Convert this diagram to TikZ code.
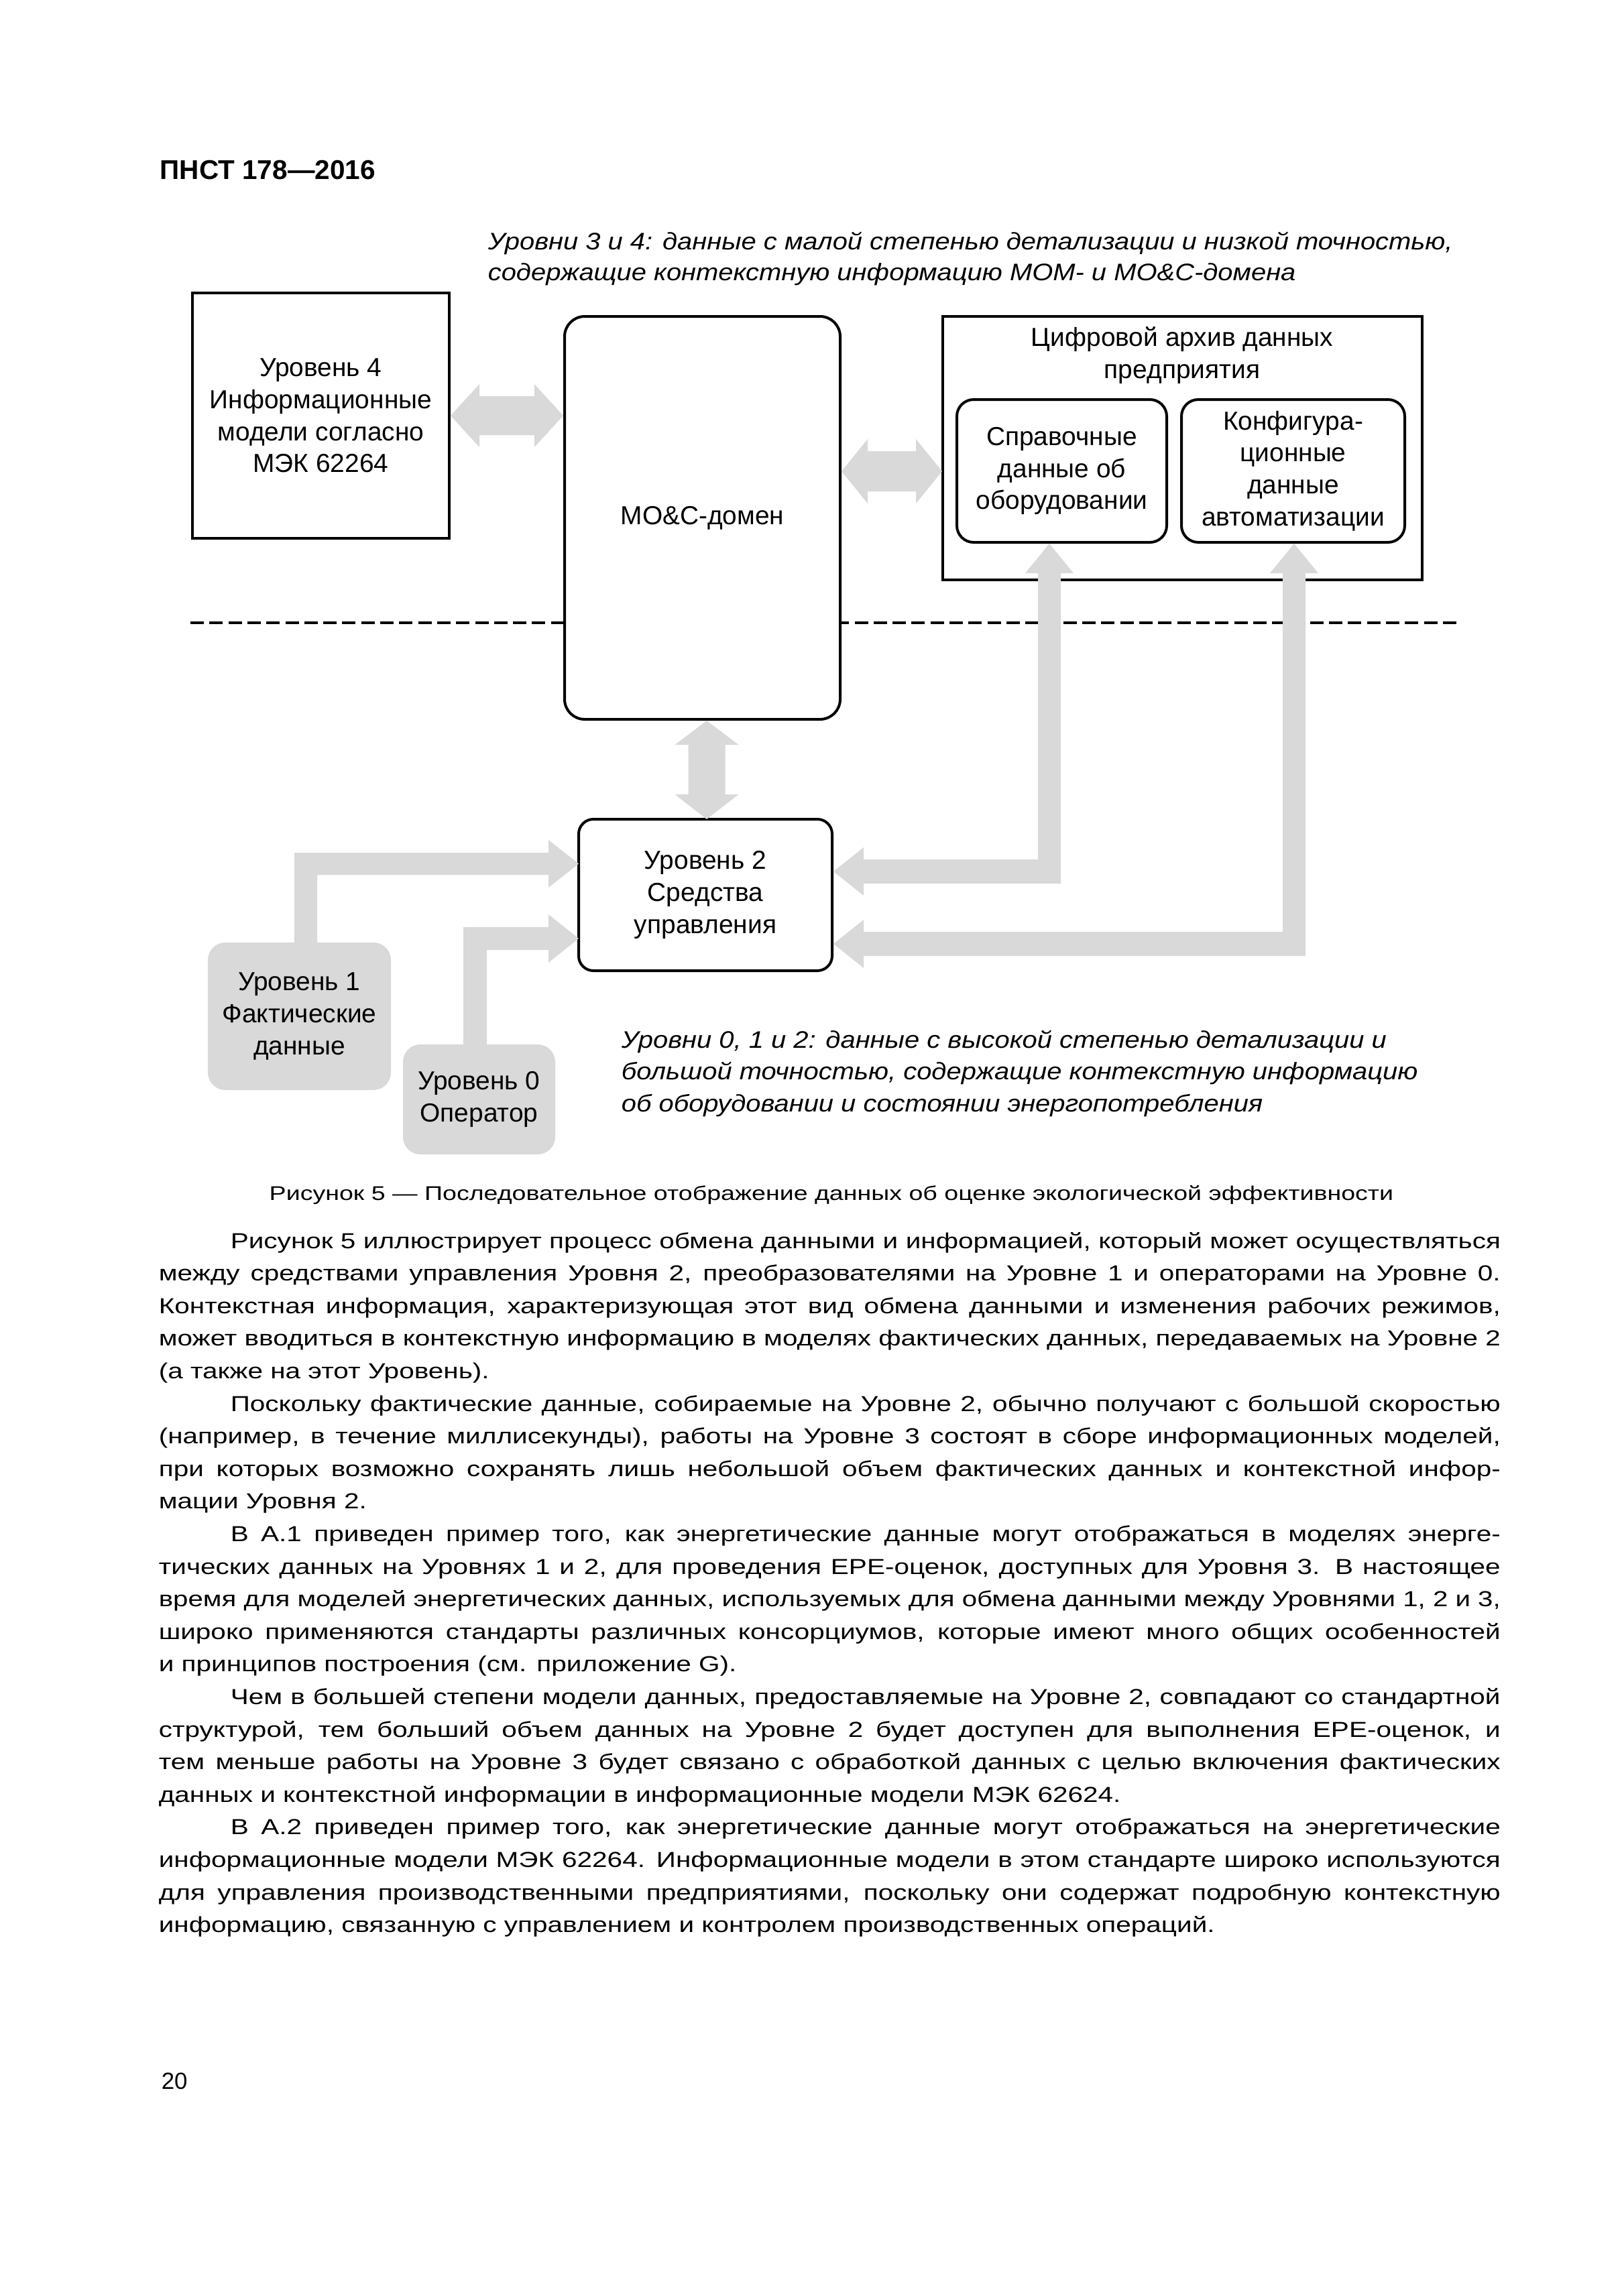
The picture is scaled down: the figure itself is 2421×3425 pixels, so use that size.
\documentclass[tikz,border=0pt]{standalone}
\usepackage{fontspec}
\usepackage{graphicx}
\setmainfont{Liberation Sans}
\newfontfamily\bodyf[FakeStretch=1.25]{Liberation Sans}
\newfontfamily\itf[FakeStretch=1.12]{Liberation Sans}
\newfontfamily\capf[FakeStretch=1.27]{Liberation Sans}
\newlength\pxu \setlength\pxu{0.08674mm}
\newsavebox\lbox
\newcommand\jline[2]{\sbox\lbox{#2}\ifdim\wd\lbox>#1\relax\resizebox{#1}{\height}{#2}\else\makebox[#1][s]{#2}\fi}
\newcommand\bodysize{\bodyf\fontsize{8}{9.6}\selectfont}
\newcommand\boxsize{\fontsize{9.6}{11.8}\selectfont}
\newcommand\itsize{\itf\itshape\fontsize{8.8}{10}\selectfont}
\newcommand\capsize{\capf\fontsize{7.3}{8.5}\selectfont}
\definecolor{agray}{RGB}{217,217,217}
\tikzset{
  bx/.style={draw, line width=4\pxu, fill=white, inner sep=0pt, align=center, font=\boxsize},
  gbx/.style={fill=agray, rounded corners=26\pxu, inner sep=0pt, align=center, font=\boxsize},
  arr/.style={fill=agray, draw=none},
  bl/.style={anchor=base west, inner sep=0pt, font=\bodysize},
  itl/.style={anchor=base west, inner sep=0pt, font=\itsize},
  dashline/.style={line width=4\pxu, dash pattern=on 20\pxu off 8.3\pxu}
}
\begin{document}
\begin{tikzpicture}[x=\pxu, y=-\pxu]
\useasboundingbox (0,0) rectangle (2421,3425);
\fill[white] (0,0) rectangle (2421,3425);

% header
\node[anchor=base west, inner sep=0pt, font=\bfseries\fontsize{10}{12}\selectfont] (hdr) at (238,267) {ПНСТ 178—2016};

% top italic note
\node[itl] (t1) at (727,372) {Уровни 3 и 4: данные с малой степенью детализации и низкой точностью,};
\node[itl] (t2) at (727,418) {содержащие контекстную информацию МОМ- и МО\&С-домена};

% dashed boundary
\coordinate (dl) at (284,929);
\coordinate (dr) at (2172,929);
\draw[dashline] (dl) -- (dr);

% boxes
\node[bx, minimum width=383\pxu, minimum height=366\pxu] (l4) at (478.5,620) {Уровень 4\\Информационные\\модели согласно\\МЭК 62264};
\node[bx, rounded corners=30\pxu, minimum width=411\pxu, minimum height=601\pxu] (moc) at (1047.5,772.5) {МО\&С-домен};
\node[bx, minimum width=715\pxu, minimum height=393\pxu] (arch) at (1763.5,668.5) {};
\node[anchor=base, inner sep=0pt, font=\boxsize] (archt1) at (1763,516) {Цифровой архив данных};
\node[anchor=base, inner sep=0pt, font=\boxsize] (archt2) at (1763,564) {предприятия};
\node[bx, rounded corners=25\pxu, minimum width=313\pxu, minimum height=213\pxu] (sprav) at (1583.5,702.5) {Справочные\\данные об\\оборудовании};
\node[bx, rounded corners=25\pxu, minimum width=333\pxu, minimum height=213\pxu] (konf) at (1928.5,702.5) {Конфигура-\\ционные\\данные\\автоматизации};
\node[bx, rounded corners=22\pxu, minimum width=378\pxu, minimum height=226\pxu] (l2) at (1052,1335) {Уровень 2\\Средства\\управления};
\node[gbx, minimum width=273\pxu, minimum height=220\pxu] (l1) at (446.5,1516) {Уровень 1\\Фактические\\данные};
\node[gbx, minimum width=227\pxu, minimum height=164\pxu] (l0) at (714.5,1640) {Уровень 0\\Оператор};

% block arrows
\fill[arr] (l4.east) -- (715,573) -- (715,591) -- (797,591) -- (797,573) -- (l4.east -| moc.west) -- (797,667) -- (797,649) -- (715,649) -- (715,667) -- cycle;
\fill[arr] (1255,703) -- (1294,655) -- (1294,673) -- (1366,673) -- (1366,655) -- (1405,703) -- (1366,751) -- (1366,733) -- (1294,733) -- (1294,751) -- cycle;
\fill[arr] (moc.south) ++(6.5,0) -- (1101.5,1111) -- (1081.5,1111) -- (1081.5,1185) -- (1101.5,1185) -- (1054,1222) -- (1006.5,1185) -- (1026.5,1185) -- (1026.5,1111) -- (1006.5,1111) -- cycle;
\fill[arr] (439,1406) -- (439,1272) -- (818,1272) -- (818,1253) -- (863,1288.5) -- (818,1324) -- (818,1305) -- (473,1305) -- (473,1406) -- cycle;
\fill[arr] (691,1558) -- (691,1383) -- (818,1383) -- (818,1364) -- (863,1400) -- (818,1436) -- (818,1417) -- (726,1417) -- (726,1558) -- cycle;
\fill[arr] (1243,1300) -- (1288,1264) -- (1288,1282) -- (1548,1282) -- (1548,855) -- (1529,855) -- (1565,811) -- (1601,855) -- (1582,855) -- (1582,1318) -- (1288,1318) -- (1288,1336) -- cycle;
\fill[arr] (1243,1408) -- (1288,1372) -- (1288,1390) -- (1913,1390) -- (1913,855) -- (1894,855) -- (1930,811) -- (1966,855) -- (1947,855) -- (1947,1426) -- (1288,1426) -- (1288,1444) -- cycle;

% lower italic note
\node[itl] (b1n) at (926,1563) {Уровни 0, 1 и 2: данные с высокой степенью детализации и};
\node[itl] (b2n) at (926,1610) {большой точностью, содержащие контекстную информацию};
\node[itl] (b3n) at (926,1658) {об оборудовании и состоянии энергопотребления};

% caption
\node[anchor=base, inner sep=0pt, font=\capsize] (cap) at (1240,1790) {Рисунок 5 — Последовательное отображение данных об оценке экологической эффективности};

% body text
\node[bl] (p1) at (343,1862) {\jline{1894\pxu}{Рисунок 5 иллюстрирует процесс обмена данными и информацией, который может осуществляться}};
\node[bl] (p2) at (236,1910.6) {\jline{2001\pxu}{между средствами управления Уровня 2, преобразователями на Уровне 1 и операторами на Уровне 0.}};
\node[bl] (p3) at (236,1959.2) {\jline{2001\pxu}{Контекстная информация, характеризующая этот вид обмена данными и изменения рабочих режимов,}};
\node[bl] (p4) at (236,2007.8) {\jline{2001\pxu}{может вводиться в контекстную информацию в моделях фактических данных, передаваемых на Уровне 2}};
\node[bl] (p5) at (236,2056.4) {(а также на этот Уровень).};
\node[bl] (p6) at (343,2105) {\jline{1894\pxu}{Поскольку фактические данные, собираемые на Уровне 2, обычно получают с большой скоростью}};
\node[bl] (p7) at (236,2153.6) {\jline{2001\pxu}{(например, в течение миллисекунды), работы на Уровне 3 состоят в сборе информационных моделей,}};
\node[bl] (p8) at (236,2202.2) {\jline{2001\pxu}{при которых возможно сохранять лишь небольшой объем фактических данных и контекстной инфор-}};
\node[bl] (p9) at (236,2250.8) {мации Уровня 2.};
\node[bl] (p10) at (343,2299.4) {\jline{1894\pxu}{В А.1 приведен пример того, как энергетические данные могут отображаться в моделях энерге-}};
\node[bl] (p11) at (236,2348) {\jline{2001\pxu}{тических данных на Уровнях 1 и 2, для проведения EPE-оценок, доступных для Уровня 3. В настоящее}};
\node[bl] (p12) at (236,2396.6) {\jline{2001\pxu}{время для моделей энергетических данных, используемых для обмена данными между Уровнями 1, 2 и 3,}};
\node[bl] (p13) at (236,2445.2) {\jline{2001\pxu}{широко применяются стандарты различных консорциумов, которые имеют много общих особенностей}};
\node[bl] (p14) at (236,2493.8) {и принципов построения (см. приложение G).};
\node[bl] (p15) at (343,2542.4) {\jline{1894\pxu}{Чем в большей степени модели данных, предоставляемые на Уровне 2, совпадают со стандартной}};
\node[bl] (p16) at (236,2591) {\jline{2001\pxu}{структурой, тем больший объем данных на Уровне 2 будет доступен для выполнения EPE-оценок, и}};
\node[bl] (p17) at (236,2639.6) {\jline{2001\pxu}{тем меньше работы на Уровне 3 будет связано с обработкой данных с целью включения фактических}};
\node[bl] (p18) at (236,2688.2) {данных и контекстной информации в информационные модели МЭК 62624.};
\node[bl] (p19) at (343,2736.8) {\jline{1894\pxu}{В А.2 приведен пример того, как энергетические данные могут отображаться на энергетические}};
\node[bl] (p20) at (236,2785.4) {\jline{2001\pxu}{информационные модели МЭК 62264. Информационные модели в этом стандарте широко используются}};
\node[bl] (p21) at (236,2834) {\jline{2001\pxu}{для управления производственными предприятиями, поскольку они содержат подробную контекстную}};
\node[bl] (p22) at (236,2882.6) {информацию, связанную с управлением и контролем производственных операций.};

% page number
\node[anchor=base west, inner sep=0pt, font={\fontsize{8.6}{10}\selectfont}] (pg) at (240,3116) {20};
\end{tikzpicture}
\end{document}
